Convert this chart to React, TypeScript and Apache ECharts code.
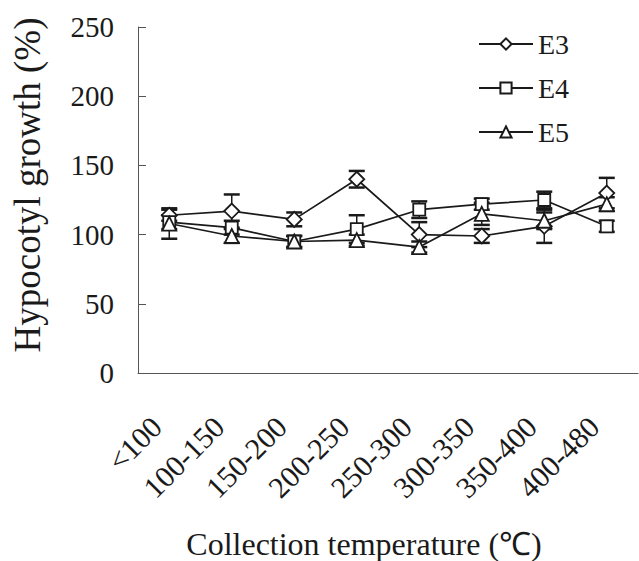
import React, { useEffect, useRef } from "react";
import * as echarts from "echarts";

const categories = ["<100", "100-150", "150-200", "200-250", "250-300", "300-350", "350-400", "400-480"];
const seriesNames = ["E3", "E4", "E5"];
const e3 = [114, 117, 111, 140, 100, 99, 106, 130];
const e3Err = [4, 12, 5, 6, 9, 5, 12, 11];
const e4 = [109, 105, 95, 104, 118, 122, 125, 106];
const e4Err = [5, 5, 4, 10, 6, 4, 6, 4];
const e5 = [108, 99, 95, 96, 91, 115, 110, 122];
const e5Err = [11, 5, 4, 4, 4, 8, 6, 5];
const yTicks = { min: 0, max: 250, interval: 50 };

const FONT = "'Liberation Serif', 'Times New Roman', serif";
const INK = "#1a1a1a";

function errData(vals: number[], errs: number[]) {
  return vals.map((v, i) => [i, v - errs[i], v + errs[i]]);
}

function errSeries(name: string, vals: number[], errs: number[]) {
  return {
    type: "custom",
    name: name + " err",
    z: 1,
    data: errData(vals, errs),
    renderItem: (params: any, api: any) => {
      const x = api.value(0);
      const lo = api.coord([x, api.value(1)]);
      const hi = api.coord([x, api.value(2)]);
      const hw = 8;
      const st = { stroke: INK, lineWidth: 1.5 };
      const cap = { stroke: INK, lineWidth: 2.5 };
      return {
        type: "group",
        children: [
          { type: "line", shape: { x1: lo[0], y1: lo[1], x2: hi[0], y2: hi[1] }, style: st },
          { type: "line", shape: { x1: hi[0] - hw, y1: hi[1], x2: hi[0] + hw, y2: hi[1] }, style: cap },
          { type: "line", shape: { x1: lo[0] - hw, y1: lo[1], x2: lo[0] + hw, y2: lo[1] }, style: cap },
        ],
      };
    },
  };
}

function lineSeries(name: string, vals: number[], symbol: string, size: number) {
  return {
    type: "line",
    name,
    z: 3,
    data: vals,
    symbol,
    symbolSize: size,
    showAllSymbol: true,
    lineStyle: { color: INK, width: 1.7 },
    itemStyle: { color: "#fff", borderColor: INK, borderWidth: 1.8 },
  };
}

export default function App() {
  const ref = useRef<HTMLDivElement>(null);
  useEffect(() => {
    const chart = echarts.init(ref.current!, null, { renderer: "svg" });
    chart.setOption({
      animation: false,
      backgroundColor: "#fff",
      textStyle: { fontFamily: FONT, color: INK },
      grid: { left: 138, right: 1, top: 27, bottom: 188, containLabel: false },
      legend: {
        data: seriesNames,
        orient: "vertical",
        left: 473,
        top: 24,
        itemWidth: 54,
        itemHeight: 14,
        itemGap: 14,
        textStyle: { fontFamily: FONT, fontSize: 28, color: INK, lineHeight: 30 },
      },
      xAxis: {
        type: "category",
        data: categories,
        boundaryGap: true,
        axisLine: { lineStyle: { color: "#555", width: 1 } },
        axisTick: { inside: true, length: 8, lineStyle: { color: "#555" } },
        axisLabel: {
          rotate: 45,
          margin: 36,
          padding: [0, 18, 0, 0],
          fontFamily: FONT,
          fontSize: 30,
          color: INK,
          interval: 0,
        },
        splitLine: { show: false },
      },
      yAxis: {
        type: "value",
        min: yTicks.min,
        max: yTicks.max,
        interval: yTicks.interval,
        axisLine: { show: true, lineStyle: { color: "#555", width: 1 } },
        axisTick: { show: true, inside: true, length: 8, lineStyle: { color: "#555" } },
        axisLabel: { margin: 24, fontFamily: FONT, fontSize: 29, color: INK },
        splitLine: { show: false },
      },
      graphic: [
        {
          type: "text",
          x: 27,
          y: 185,
          rotation: Math.PI / 2,
          style: {
            text: "Hypocotyl growth (%)",
            fontFamily: FONT,
            fontSize: 37,
            fill: INK,
            align: "center",
            verticalAlign: "middle",
          },
        },
        {
          type: "text",
          x: 364,
          y: 544,
          style: {
            text: "Collection temperature (℃)",
            fontFamily: FONT,
            fontSize: 32,
            fill: INK,
            align: "center",
            verticalAlign: "middle",
          },
        },
      ],
      series: [
        errSeries("E3", e3, e3Err),
        errSeries("E4", e4, e4Err),
        errSeries("E5", e5, e5Err),
        lineSeries("E3", e3, "diamond", 15),
        lineSeries("E4", e4, "rect", 12),
        lineSeries("E5", e5, "triangle", 14),
      ],
    });
    return () => chart.dispose();
  }, []);
  return (
    <div
      ref={ref}
      style={{ position: "absolute", left: 0, top: 0, width: 639, height: 561 }}
    />
  );
}
